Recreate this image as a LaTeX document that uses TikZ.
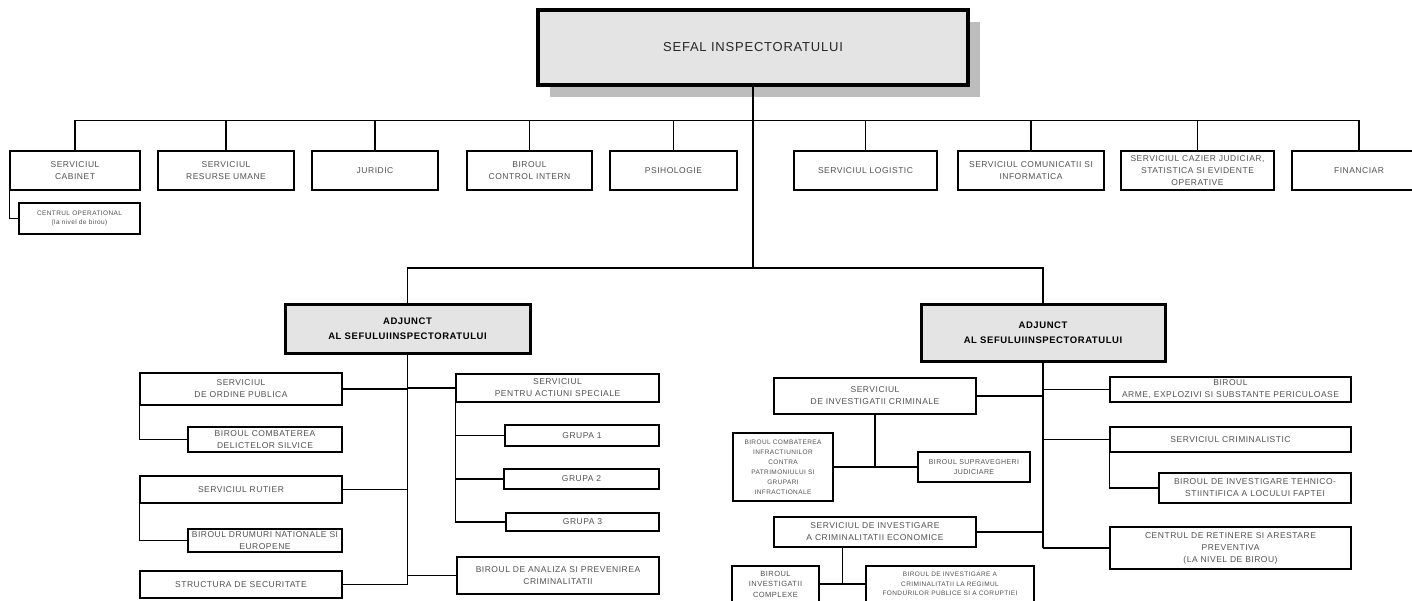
\documentclass[tikz,border=0pt]{standalone}
\usepackage{fontspec}
\setmainfont{Liberation Sans}[LetterSpace=6]
\usepackage{tikz}
\usetikzlibrary{calc}
\definecolor{Ink}{HTML}{505050}
\definecolor{Panel}{HTML}{E4E4E4}
\definecolor{Shade}{HTML}{BDBDBD}
\tikzset{
  unit/.style={draw, line width=1.4pt, inner sep=0pt, align=center, text=Ink,
    font=\fontsize{8.5}{12}\selectfont},
  tiny/.style={font=\fontsize{6.5}{9.5}\selectfont},
  chief/.style={draw, line width=3pt, fill=Panel, inner sep=0pt, align=center,
    font=\bfseries\fontsize{9.5}{15}\selectfont},
  link/.style={line width=1.2pt},
}

\begin{document}
\begin{tikzpicture}[x=1pt,y=-1pt]
  \useasboundingbox (0,0) rectangle (1412,600);
  \clip (0,0) rectangle (1412,600);

  % head of the inspectorate
  \fill[Shade] (550,22) rectangle (980,97);
  \node[chief, line width=4pt, minimum width=430, minimum height=75,
    font=\fontsize{13}{15}\selectfont, text=black!85] (sefal) at (753,47.5) {SEFAL INSPECTORATULUI};

  % first row
  \node[unit, minimum width=130, minimum height=39] (cabinet) at (75,170.5) {SERVICIUL\\CABINET};
  \node[unit, minimum width=136, minimum height=39] (resurse) at (226,170.5) {SERVICIUL\\RESURSE UMANE};
  \node[unit, minimum width=126, minimum height=39] (juridic) at (375,170.5) {JURIDIC};
  \node[unit, minimum width=125, minimum height=39] (control) at (529.5,170.5) {BIROUL\\CONTROL INTERN};
  \node[unit, minimum width=127, minimum height=39] (psihologie) at (673.5,170.5) {PSIHOLOGIE};
  \node[unit, minimum width=143, minimum height=39] (logistic) at (865.5,170.5) {SERVICIUL LOGISTIC};
  \node[unit, minimum width=146, minimum height=39] (comunicatii) at (1031,170.5) {SERVICIUL COMUNICATII SI\\INFORMATICA};
  \node[unit, minimum width=153, minimum height=39] (cazier) at (1197.5,170.5) {SERVICIUL CAZIER JUDICIAR,\\STATISTICA SI EVIDENTE\\OPERATIVE};
  \node[unit, minimum width=134, minimum height=39] (financiar) at (1359,170.5) {FINANCIAR};
  \node[unit, tiny, minimum width=121, minimum height=31] (operational) at (79.5,218.5) {CENTRUL OPERATIONAL\\(la nivel de birou)};

  % deputies
  \node[chief, minimum width=245, minimum height=49] (adjL) at (407.5,328.5) {ADJUNCT\\AL SEFULUIINSPECTORATULUI};
  \node[chief, minimum width=244, minimum height=57] (adjR) at (1043,332.5) {ADJUNCT\\AL SEFULUIINSPECTORATULUI};

  % left deputy
  \node[unit, minimum width=202, minimum height=32] (ordine) at (241,389) {SERVICIUL\\DE ORDINE PUBLICA};
  \node[unit, minimum width=154, minimum height=25] (silvice) at (265,439.5) {BIROUL COMBATEREA\\DELICTELOR SILVICE};
  \node[unit, minimum width=202, minimum height=27] (rutier) at (241,489.5) {SERVICIUL RUTIER};
  \node[unit, minimum width=154, minimum height=23] (drumuri) at (265,540.5) {BIROUL DRUMURI NATIONALE SI\\EUROPENE};
  \node[unit, minimum width=202, minimum height=27] (securitate) at (241,584.5) {STRUCTURA DE SECURITATE};
  \node[unit, minimum width=203, minimum height=28] (speciale) at (557.5,388) {SERVICIUL\\PENTRU ACTIUNI SPECIALE};
  \node[unit, minimum width=154, minimum height=21] (grupa1) at (582,435.5) {GRUPA 1};
  \node[unit, minimum width=155, minimum height=20] (grupa2) at (581.5,479) {GRUPA 2};
  \node[unit, minimum width=153, minimum height=18] (grupa3) at (582.5,522) {GRUPA 3};
  \node[unit, minimum width=202, minimum height=37] (analiza) at (558,575.5) {BIROUL DE ANALIZA SI PREVENIREA\\CRIMINALITATII};

  % right deputy
  \node[unit, minimum width=202, minimum height=36] (crimin) at (875,396) {SERVICIUL\\DE INVESTIGATII CRIMINALE};
  \node[unit, font=\fontsize{6.5}{10}\selectfont, minimum width=100, minimum height=68] (patrimoniu) at (783,467)
    {BIROUL COMBATEREA\\INFRACTIUNILOR\\CONTRA\\PATRIMONIULUI SI\\GRUPARI\\INFRACTIONALE};
  \node[unit, font=\fontsize{7}{10}\selectfont, minimum width=112, minimum height=30] (supraveghere) at (974,467) {BIROUL SUPRAVEGHERI\\JUDICIARE};
  \node[unit, minimum width=202, minimum height=30] (economice) at (875,532) {SERVICIUL DE INVESTIGARE\\A CRIMINALITATII ECONOMICE};
  \node[unit, font=\fontsize{7.5}{10.5}\selectfont, minimum width=87, minimum height=36] (complexe) at (775.5,584) {BIROUL\\INVESTIGATII\\COMPLEXE};
  \node[unit, tiny, minimum width=168, minimum height=36] (fonduri) at (950,584)
    {BIROUL DE INVESTIGARE A\\CRIMINALITATII LA REGIMUL\\FONDURILOR PUBLICE SI A CORUPTIEI};
  \node[unit, minimum width=241, minimum height=25] (arme) at (1230.5,389.5) {BIROUL\\ARME, EXPLOZIVI SI SUBSTANTE PERICULOASE};
  \node[unit, minimum width=241, minimum height=25] (criminalistic) at (1230.5,439.5) {SERVICIUL CRIMINALISTIC};
  \node[unit, minimum width=192, minimum height=30] (tehnico) at (1255,488) {BIROUL DE INVESTIGARE TEHNICO-\\STIINTIFICA A LOCULUI FAPTEI};
  \node[unit, minimum width=241, minimum height=42] (retinere) at (1230.5,548) {CENTRUL DE RETINERE SI ARESTARE\\PREVENTIVA\\(LA NIVEL DE BIROU)};

  % connectors, top
  \draw[link] (sefal.south) -- ++(0,181) coordinate (fork);
  \draw[link] (cabinet.north) -- ++(0,-30) -| (financiar.north);
  \foreach \n in {resurse,juridic,control,psihologie,logistic,comunicatii,cazier}
    \draw[link] (\n.north) -- ++(0,-30);
  \draw[link] (cabinet.south west) |- (operational.west);
  \draw[link] (adjL.north) |- (fork) -| (adjR.north);

  % connectors, left deputy
  \draw[link] (adjL.south) -- (adjL.south |- securitate.east);
  \foreach \n in {ordine,rutier,securitate}
    \draw[link] (\n.east) -- (\n.east -| adjL.south);
  \foreach \n in {speciale,analiza}
    \draw[link] (\n.west) -- (\n.west -| adjL.south);
  \draw[link] (ordine.south west) |- (silvice.west);
  \draw[link] (rutier.south west) |- (drumuri.west);
  \draw[link] (speciale.south west) |- (grupa3.west);
  \foreach \n in {grupa1,grupa2}
    \draw[link] (\n.west) -- (\n.west -| speciale.south west);

  % connectors, right deputy
  \draw[link] (adjR.south) -- (adjR.south |- retinere.west);
  \foreach \n in {crimin,economice}
    \draw[link] (\n.east) -- (\n.east -| adjR.south);
  \foreach \n in {arme,criminalistic,retinere}
    \draw[link] (\n.west) -- (\n.west -| adjR.south);
  \draw[link] (criminalistic.south west) |- (tehnico.west);
  \draw[link] (crimin.south) -- (crimin.south |- patrimoniu.east);
  \draw[link] (patrimoniu.east) -- (supraveghere.west);
  \coordinate (econfork) at ($(complexe.east)!.5!(fonduri.west)$);
  \draw[link] (economice.south -| econfork) -- (econfork);
  \draw[link] (complexe.east) -- (fonduri.west);
\end{tikzpicture}
\end{document}
